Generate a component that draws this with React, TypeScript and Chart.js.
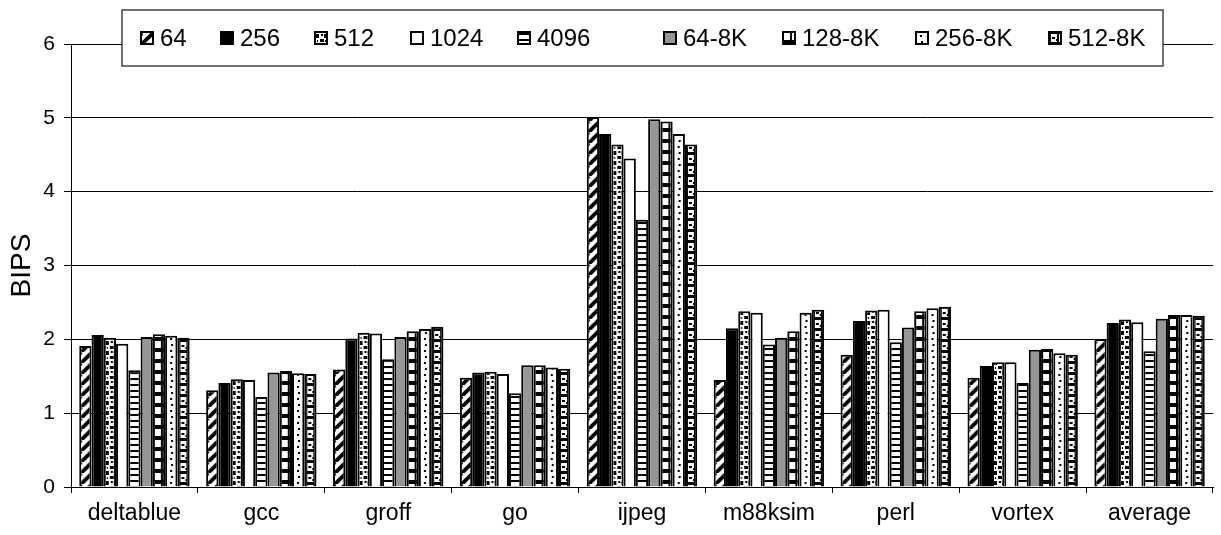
import React, { useEffect, useRef } from "react";
import { Chart, registerables } from "chart.js";

Chart.register(...registerables);

// Benchmarks on the category axis
const categories = ["deltablue", "gcc", "groff", "go", "ijpeg", "m88ksim", "perl", "vortex", "average"];

// Series names
const seriesLabels = ["64", "256", "512", "1024", "4096", "64-8K", "128-8K", "256-8K", "512-8K"];

// BIPS per configuration
const bips64 = [1.91, 1.31, 1.59, 1.48, 5.01, 1.45, 1.79, 1.48, 2.0];
const bips256 = [2.06, 1.41, 2.01, 1.55, 4.78, 2.15, 2.25, 1.64, 2.22];
const bips512 = [2.02, 1.46, 2.09, 1.56, 4.64, 2.38, 2.39, 1.69, 2.27];
const bips1024 = [1.94, 1.45, 2.08, 1.53, 4.45, 2.36, 2.4, 1.69, 2.23];
const bips4096 = [1.58, 1.22, 1.73, 1.27, 3.62, 1.93, 1.96, 1.41, 1.84];
const bips64_8K = [2.03, 1.55, 2.03, 1.65, 4.98, 2.02, 2.16, 1.86, 2.28];
const bips128_8K = [2.07, 1.57, 2.11, 1.65, 4.95, 2.11, 2.38, 1.87, 2.33];
const bips256_8K = [2.05, 1.54, 2.14, 1.62, 4.78, 2.36, 2.42, 1.81, 2.33];
const bips512_8K = [2.02, 1.53, 2.17, 1.6, 4.64, 2.4, 2.44, 1.79, 2.32];

const seriesValues = [bips64, bips256, bips512, bips1024, bips4096, bips64_8K, bips128_8K, bips256_8K, bips512_8K];

// Y axis ticks
const yTicks = [0, 1, 2, 3, 4, 5, 6];

const FONT = '"Liberation Sans", Arial, sans-serif';

// ---- fill tiles ----
type Painter = (g: CanvasRenderingContext2D, w: number, h: number) => void;

function makeTile(w: number, h: number, paint: Painter): HTMLCanvasElement {
  const c = document.createElement("canvas");
  c.width = w;
  c.height = h;
  const g = c.getContext("2d")!;
  paint(g, w, h);
  return c;
}

function buildTiles(): (HTMLCanvasElement | string)[] {
  const diag = makeTile(11, 11, (g, w, h) => {
    g.fillStyle = "#fff";
    g.fillRect(0, 0, w, h);
    g.strokeStyle = "#000";
    g.lineWidth = 3.8;
    for (const k of [-w, 0, w]) {
      g.beginPath();
      g.moveTo(k, h);
      g.lineTo(k + w, 0);
      g.stroke();
    }
  });
  const confetti = makeTile(8, 10, (g, w, h) => {
    g.fillStyle = "#fff";
    g.fillRect(0, 0, w, h);
    g.fillStyle = "#000";
    g.fillRect(0, 1, 3, 4);
    g.fillRect(4, 6, 4, 3);
    g.fillRect(5, 1, 2, 2);
    g.fillRect(1, 7, 1, 2);
  });
  const hlines = makeTile(8, 6, (g, w, h) => {
    g.fillStyle = "#fff";
    g.fillRect(0, 0, w, h);
    g.fillStyle = "#000";
    g.fillRect(0, 0, w, 2);
  });
  const windows = makeTile(8, 11, (g, w, h) => {
    g.fillStyle = "#000";
    g.fillRect(0, 0, w, h);
    g.fillStyle = "#fff";
    g.fillRect(0, 0, 6, 7);
  });
  const dots = makeTile(8, 12, (g, w, h) => {
    g.fillStyle = "#fff";
    g.fillRect(0, 0, w, h);
    g.fillStyle = "#000";
    g.fillRect(3, 2, 2, 2);
    g.fillRect(4, 8, 2, 2);
  });
  const rings = makeTile(8, 11, (g, w, h) => {
    g.fillStyle = "#000";
    g.fillRect(0, 0, w, h);
    g.fillStyle = "#fff";
    g.fillRect(1, 1, 6, 8);
    g.fillStyle = "#000";
    g.fillRect(2, 4, 3, 2);
    g.fillRect(6, 6, 1, 2);
  });
  return [diag, "#000000", confetti, "#ffffff", hlines, "#969696", windows, dots, rings];
}

export default function App() {
  const canvasRef = useRef<HTMLCanvasElement | null>(null);

  useEffect(() => {
    document.body.style.margin = "0";
    const canvas = canvasRef.current;
    if (!canvas) return;
    const tiles = buildTiles();
    const catPct = 0.87;
    const nSeries = seriesLabels.length;

    const fillFor = (g: CanvasRenderingContext2D, tile: HTMLCanvasElement | string, x: number, y: number) => {
      if (typeof tile === "string") return tile;
      const p = g.createPattern(tile, "repeat")!;
      p.setTransform(new DOMMatrix().translate(x, y));
      return p;
    };

    const legendPlugin = {
      id: "boxLegend",
      afterDraw(chart: Chart) {
        const g = chart.ctx;
        g.save();
        const bx = 122, by = 10, bw = 1041, bh = 56;
        g.fillStyle = "#fff";
        g.fillRect(bx, by, bw, bh);
        g.strokeStyle = "#444";
        g.lineWidth = 1.5;
        g.strokeRect(bx, by, bw, bh);
        const itemX = [140, 220, 314, 410, 517, 663, 782, 915, 1048];
        const cy = by + bh / 2;
        const s = 14;
        g.font = `24px ${FONT}`;
        g.textBaseline = "middle";
        g.textAlign = "left";
        seriesLabels.forEach((lab, i) => {
          const x = itemX[i];
          const y = Math.round(cy - s / 2);
          g.fillStyle = fillFor(g, tiles[i], x + 2, y + 2) as any;
          g.fillRect(x, y, s, s);
          g.strokeStyle = "#000";
          g.lineWidth = 2;
          g.strokeRect(x + 1, y + 1, s - 2, s - 2);
          g.fillStyle = "#000";
          g.fillText(lab, x + s + 6, cy + 1);
        });
        g.restore();
      },
    };

    const chart = new Chart(canvas, {
      type: "bar",
      data: {
        labels: categories,
        datasets: seriesLabels.map((label, i) => ({
          label,
          data: seriesValues[i],
          borderColor: "#000",
          borderWidth: 2,
          categoryPercentage: catPct,
          barPercentage: 1.0,
          backgroundColor: (c: any) => {
            const tile = tiles[i];
            if (typeof tile === "string") return tile;
            const xs = c.chart.scales?.x;
            if (!xs || c.type !== "data") return "#fff";
            const catW = (xs.right - xs.left) / categories.length;
            const groupW = catW * catPct;
            const barW = groupW / nSeries;
            const left = xs.getPixelForValue(c.dataIndex) - groupW / 2 + i * barW;
            return fillFor(c.chart.ctx, tile, left + 2, 0);
          },
        })),
      },
      options: {
        responsive: false,
        animation: false,
        devicePixelRatio: 1,
        layout: { padding: { top: 44, right: 8, bottom: 0, left: 0 } },
        plugins: {
          legend: { display: false },
          tooltip: { enabled: false },
        },
        scales: {
          x: {
            grid: {
              display: true,
              drawOnChartArea: false,
              drawTicks: true,
              tickLength: 6,
              color: "#000",
              offset: true,
            },
            border: { display: true, color: "#000", width: 1 },
            ticks: {
              color: "#000",
              padding: 7,
              font: { family: FONT, size: 23 },
            },
            afterFit: (scale: any) => {
              scale.height = 48;
            },
          },
          y: {
            min: 0,
            max: 6,
            afterBuildTicks: (scale: any) => {
              scale.ticks = yTicks.map((v) => ({ value: v }));
            },
            grid: {
              color: "#000",
              lineWidth: 1,
              drawTicks: true,
              tickLength: 7,
              tickColor: "#000",
            },
            border: { display: true, color: "#000", width: 1 },
            ticks: {
              color: "#000",
              padding: 9,
              font: { family: FONT, size: 21 },
            },
            title: {
              display: true,
              text: "BIPS",
              color: "#000",
              padding: { top: 5, bottom: 0 },
              font: { family: FONT, size: 28 },
            },
            afterFit: (scale: any) => {
              scale.width = 71;
            },
          },
        },
      },
      plugins: [legendPlugin],
    });

    return () => chart.destroy();
  }, []);

  return (
    <div style={{ width: 1221, height: 535, background: "#fff" }}>
      <canvas ref={canvasRef} width={1221} height={535} style={{ display: "block" }} />
    </div>
  );
}
